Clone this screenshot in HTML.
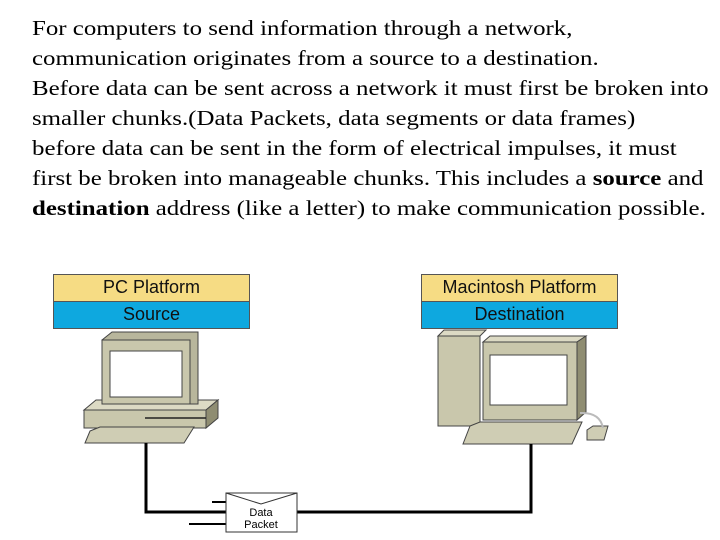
<!DOCTYPE html>
<html><head><style>
body{margin:0;width:720px;height:540px;background:#fff;position:relative;overflow:hidden;font-family:"Liberation Serif",serif}
.t{position:absolute;left:32px;top:13px;font-size:21px;line-height:30px;white-space:nowrap;color:#000;transform:scaleX(1.185);transform-origin:0 0}
.b{position:absolute;border:1px solid #555;box-sizing:border-box;font-family:"Liberation Sans",sans-serif;font-size:18px;text-align:center;line-height:25px;color:#111}
</style></head><body>
<div class="t">For computers to send information through a network,<br>communication originates from a source to a destination.<br>Before data can be sent across a network it must first be broken into<br>smaller chunks.(Data Packets, data segments or data frames)<br>before data can be sent in the form of electrical impulses, it must<br>first be broken into manageable chunks. This includes a <b>source</b> and<br><b>destination</b> address (like a letter) to make communication possible.</div>
<div class="b" style="left:53px;top:274px;width:197px;height:28px;background:#f6dc84">PC Platform</div>
<div class="b" style="left:53px;top:301px;width:197px;height:28px;background:#0ea8df">Source</div>
<div class="b" style="left:421px;top:274px;width:197px;height:28px;background:#f6dc84">Macintosh Platform</div>
<div class="b" style="left:421px;top:301px;width:197px;height:28px;background:#0ea8df">Destination</div>
<svg width="720" height="540" style="position:absolute;left:0;top:0">
<g stroke="#444" stroke-width="1" fill="#c9c7ac">
<polygon points="84,410 96,400 218,400 206,410" fill="#dcdac4"/>
<polygon points="206,410 218,400 218,418 206,428" fill="#8f8d72"/>
<rect x="84" y="410" width="122" height="18"/>
<polygon points="102,340 112,332 198,332 198,404 190,404" fill="#b8b69c"/>
<rect x="102" y="340" width="88" height="64"/>
<rect x="110" y="351" width="72" height="46" fill="#fff"/>
<polygon points="90,431 100,427 194,427 184,443 85,443" fill="#cfcdb4"/>
<rect x="438" y="336" width="42" height="90"/>
<polygon points="438,336 444,330 486,330 480,336" fill="#dcdac4"/>
<polygon points="483,342 490,336 586,336 577,342" fill="#dcdac4"/>
<polygon points="577,342 586,336 586,412 577,420" fill="#8f8d72"/>
<rect x="483" y="342" width="94" height="78"/>
<rect x="490" y="355" width="77" height="50" fill="#fff"/>
<polygon points="470,426 480,422 582,422 572,444 463,444" fill="#cfcdb4"/>
<polygon points="587,430 593,426 608,426 604,440 587,440" fill="#cfcdb4"/>
</g>
<line x1="145" y1="418" x2="206" y2="418" stroke="#222" stroke-width="1.5"/>
<path d="M580,413 Q600,412 603,428" fill="none" stroke="#bbb" stroke-width="2"/>
<path d="M146,443 V512 H531 V444" fill="none" stroke="#000" stroke-width="3"/>
<line x1="212" y1="502" x2="226" y2="502" stroke="#000" stroke-width="2"/>
<line x1="189" y1="524" x2="226" y2="524" stroke="#000" stroke-width="2"/>
<rect x="226" y="493" width="71" height="39" fill="#fff" stroke="#333"/>
<polyline points="226,493 261,504 297,493" fill="none" stroke="#333"/>
<text x="261" y="516" font-family="Liberation Sans" font-size="11" text-anchor="middle">Data</text>
<text x="261" y="528" font-family="Liberation Sans" font-size="11" text-anchor="middle">Packet</text>
</svg>
</body></html>
